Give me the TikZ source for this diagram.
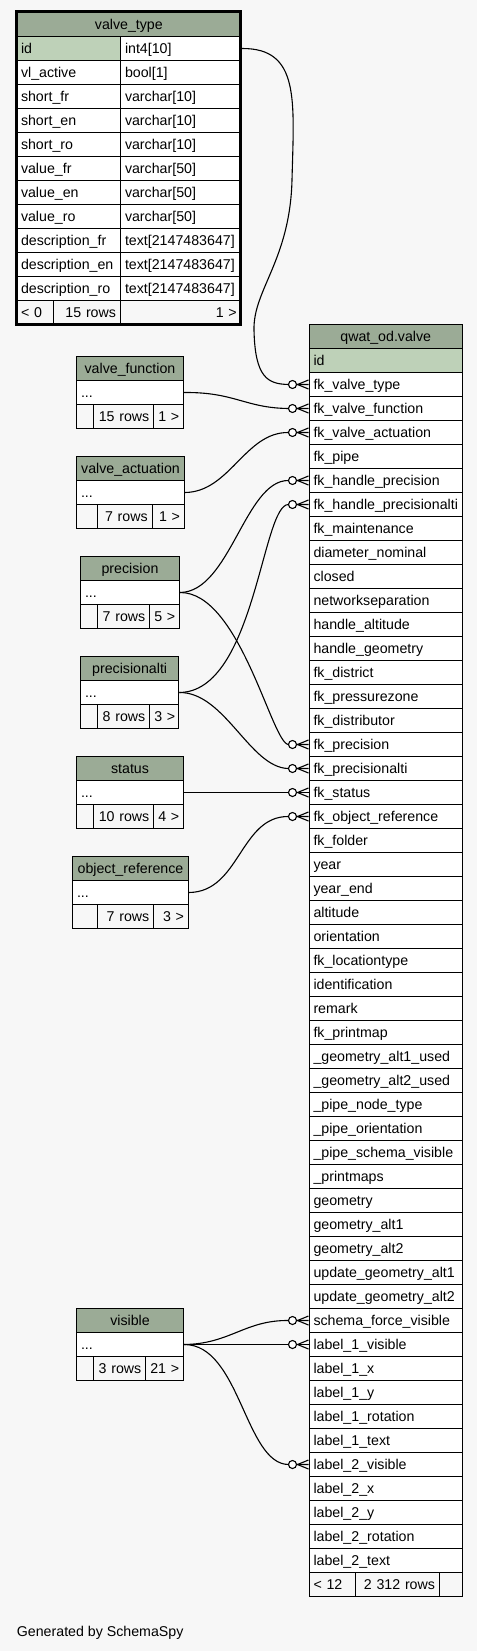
\documentclass[tikz,border=0pt]{standalone}
\usepackage{fontspec}
\setmainfont{Liberation Sans}
\hyphenpenalty=10000
\exhyphenpenalty=10000

\definecolor{headgreen}{HTML}{9BAB96}
\definecolor{keygreen}{HTML}{BED1B8}
\definecolor{paper}{HTML}{F7F7F7}

\newcommand\crowsfoot[1]{%
  \draw[fk] ([xshift=-11bp]#1.west) -- ([yshift=4.5bp]#1.west)
            ([xshift=-11bp]#1.west) -- ([yshift=-4.5bp]#1.west);
  \draw[fk,fill=white] ([xshift=-16bp]#1.west) circle (4bp);
}

\begin{document}
\begin{tikzpicture}[inner sep=0mm, x=1bp, y=-1bp,
  font=\fontsize{14.2bp}{16bp}\selectfont,
  cell/.style={draw=black, line width=1bp, anchor=north west, minimum height=24bp,
    inner xsep=4.5bp, text height=12bp, text depth=2bp, align=left, fill=white},
  head/.style={cell, fill=headgreen, align=center},
  foot/.style={cell, fill=paper},
  fk/.style={line width=1.1bp, black}]

  \useasboundingbox (0,0) rectangle (477,1651);
  \fill[paper] (0,0) rectangle (477,1651);

  \begin{scope}
    \xdef\mL{308.5}
    \xdef\mR{462}
    \xdef\mT{324}
    \pgfmathsetmacro\mW{\mR-\mL-9}

    \node[head, text width=\mW bp] (valve) at (\mL,\mT) {qwat\_od.valve};
    \foreach \f [count=\i from 0] in {id, fk\_valve\_type, fk\_valve\_function,
        fk\_valve\_actuation, fk\_pipe, fk\_handle\_precision, fk\_handle\_precisionalti,
        fk\_maintenance, diameter\_nominal, closed, networkseparation, handle\_altitude,
        handle\_geometry, fk\_district, fk\_pressurezone, fk\_distributor, fk\_precision,
        fk\_precisionalti, fk\_status, fk\_object\_reference, fk\_folder, year, year\_end,
        altitude, orientation, fk\_locationtype, identification, remark, fk\_printmap,
        \_geometry\_alt1\_used, \_geometry\_alt2\_used, \_pipe\_node\_type,
        \_pipe\_orientation, \_pipe\_schema\_visible, \_printmaps, geometry,
        geometry\_alt1, geometry\_alt2, update\_geometry\_alt1, update\_geometry\_alt2,
        schema\_force\_visible, label\_1\_visible, label\_1\_x, label\_1\_y,
        label\_1\_rotation, label\_1\_text, label\_2\_visible, label\_2\_x, label\_2\_y,
        label\_2\_rotation, label\_2\_text} {
      \ifnum\i=0 \xdef\rf{keygreen}\else\xdef\rf{white}\fi
      \node[cell, fill=\rf, text width=\mW bp] (v_\i) at (\mL,\mT+24+24*\i) {\f};
    }
    \node[foot, text width=37.5bp] (vfoot_a) at (\mL,1572) {\mbox{< 12}};
    \node[foot, text width=75bp, align=right] (vfoot_b) at (355,1572) {\mbox{2 312 rows}};
    \node[foot, text width=14bp] (vfoot_c) at (439,1572) {};
  \end{scope}

  \begin{scope}
    \node[head, text width=215.7bp] (vtype) at (16,12) {valve\_type};
    \foreach \n/\ty [count=\i from 0] in {id/int4[10], vl\_active/bool[1],
        short\_fr/varchar[10], short\_en/varchar[10], short\_ro/varchar[10],
        value\_fr/varchar[50], value\_en/varchar[50], value\_ro/varchar[50],
        description\_fr/text[2147483647], description\_en/text[2147483647],
        description\_ro/text[2147483647]} {
      \ifnum\i=0 \xdef\rf{keygreen}\else\xdef\rf{white}\fi
      \node[cell, fill=\rf, text width=95bp] (vt_n\i) at (16,36+24*\i) {\n};
      \node[cell, text width=111.7bp] (vt_t\i) at (120,36+24*\i) {\mbox{\ty}};
    }
    \node[foot, text width=28.3bp] (vtfoot_a) at (16,300) {\mbox{< 0}};
    \node[foot, text width=57.7bp, align=right] (vtfoot_b) at (53.3,300) {\mbox{15 rows}};
    \node[foot, text width=111.7bp, align=right] (vtfoot_c) at (120,300) {\mbox{1 >}};
    \draw[line width=3bp] (16,12) rectangle (240.7,324);
  \end{scope}

  \foreach \name/\title/\lx/\rx/\ty/\da/\db/\nr/\nk in {
      vfunction/valve\_function/76/183/356/93.3/153.3/15 rows/1 >,
      vactuation/valve\_actuation/76/184/456/97.3/151.7/7 rows/1 >,
      precision/precision/80/179/556/96.7/149.3/7 rows/5 >,
      precisionalti/precisionalti/80/178.3/656/97.3/149.3/8 rows/3 >,
      status/status/76/183/756/93.3/153.3/10 rows/4 >,
      objref/object\_reference/72/188/856/97.3/153.3/7 rows/3 >,
      visible/visible/76/183/1308/93.3/145.3/3 rows/21 >} {
    \pgfmathsetmacro\wh{\rx-\lx-9}
    \pgfmathsetmacro\wa{\da-\lx-9}
    \pgfmathsetmacro\wb{\db-\da-9}
    \pgfmathsetmacro\wc{\rx-\db-9}
    \node[head, text width=\wh bp] (\name_h) at (\lx,\ty) {\title};
    \node[cell, text width=\wh bp] (\name) at (\lx,\ty+24) {...};
    \node[foot, text width=\wa bp] (\name_fa) at (\lx,\ty+48) {};
    \node[foot, text width=\wb bp, align=right] (\name_fb) at (\da,\ty+48) {\mbox{\nr}};
    \node[foot, text width=\wc bp, align=right] (\name_fc) at (\db,\ty+48) {\mbox{\nk}};
  }

  \draw[fk] (vt_t0.east) .. controls (300,48) and (294,100) .. (292,180)
    .. controls (290,260) and (253,290) .. (254,330)
    .. controls (255,378) and (268,384) .. ([xshift=-20bp]v_1.west) -- (v_1.west);
  \draw[fk] (vfunction.east) .. controls (235,392) and (245,408) .. ([xshift=-20bp]v_2.west) -- (v_2.west);
  \draw[fk] (vactuation.east) .. controls (230,492) and (245,432) .. ([xshift=-20bp]v_3.west) -- (v_3.west);
  \draw[fk] (precision.east) .. controls (230,592) and (245,480) .. ([xshift=-20bp]v_5.west) -- (v_5.west);
  \draw[fk] (precisionalti.east) .. controls (255,692) and (262,504) .. ([xshift=-20bp]v_6.west) -- (v_6.west);
  \draw[fk] (precision.east) .. controls (240,592) and (272,744) .. ([xshift=-20bp]v_16.west) -- (v_16.west);
  \draw[fk] (precisionalti.east) .. controls (225,692) and (250,768) .. ([xshift=-20bp]v_17.west) -- (v_17.west);
  \draw[fk] (status.east) -- (v_18.west);
  \draw[fk] (objref.east) .. controls (240,892) and (240,816) .. ([xshift=-20bp]v_19.west) -- (v_19.west);
  \draw[fk] (visible.east) .. controls (230,1344) and (245,1320) .. ([xshift=-20bp]v_40.west) -- (v_40.west);
  \draw[fk] (visible.east) -- (v_41.west);
  \draw[fk] (visible.east) .. controls (240,1344) and (245,1464) .. ([xshift=-20bp]v_46.west) -- (v_46.west);
  \foreach \k in {1,2,3,5,6,16,17,18,19,40,41,46} {
    \crowsfoot{v_\k}
  }

  \node[anchor=base west] (credit) at (16.7,1636) {Generated by SchemaSpy};
\end{tikzpicture}
\end{document}
